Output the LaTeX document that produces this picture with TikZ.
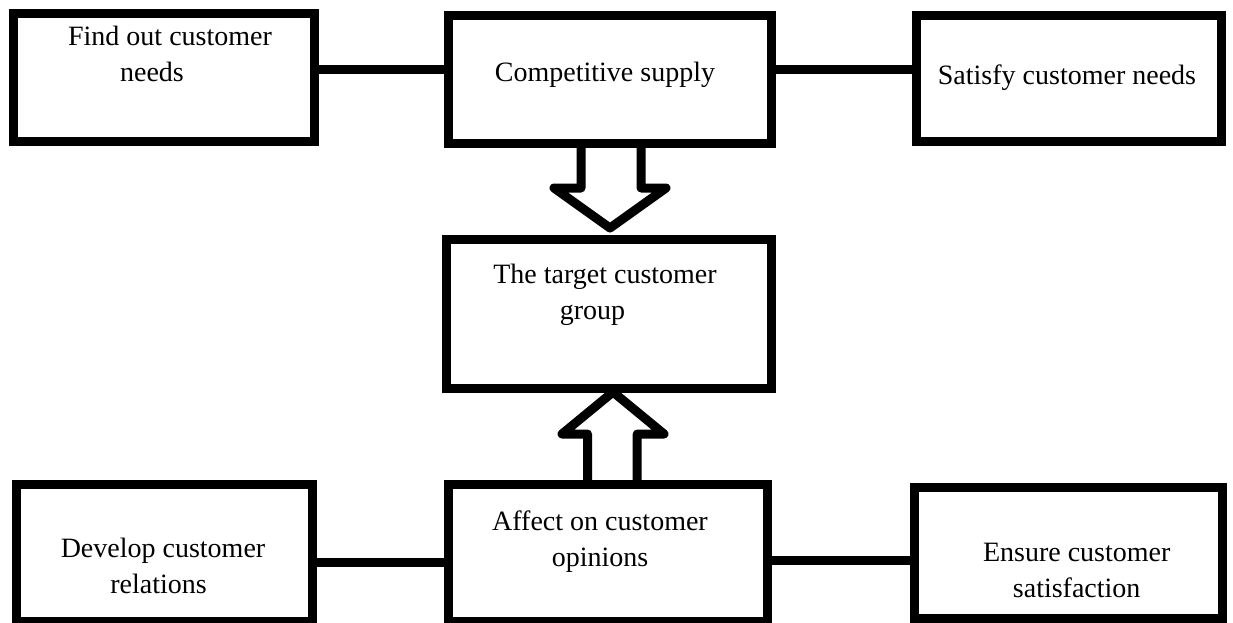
\documentclass[tikz,border=0pt]{standalone}
\usepackage{fontspec}
\setmainfont{Liberation Serif}
\usetikzlibrary{calc}
\begin{document}
\begin{tikzpicture}[x=1pt,y=-1pt,
  box/.style={draw=black, line width=9pt, rectangle, inner sep=0pt, outer sep=0pt},
  txt/.style={inner sep=0pt, anchor=base, font=\fontsize{28}{36}\selectfont},
  conn/.style={draw=black, line width=9pt},
  blockarrow/.style={draw=black, line width=9pt, line join=round}]
\fill[white] (0,0) rectangle (1233,623);
\useasboundingbox (0,0) rectangle (1233,623);

% boxes
\node[box, minimum width=300.3pt, minimum height=127.5pt] (find) at (163.85,77.55) {};
\node[box, minimum width=323pt, minimum height=127.2pt] (comp) at (609.5,79.4) {};
\node[box, minimum width=304.7pt, minimum height=125.9pt] (sat) at (1068.65,78.75) {};
\node[box, minimum width=325pt, minimum height=149.2pt] (target) at (608.5,314.1) {};
\node[box, minimum width=296pt, minimum height=136.8pt] (dev) at (164,553.1) {};
\node[box, minimum width=319.8pt, minimum height=136.5pt] (aff) at (607.9,552.95) {};
\node[box, minimum width=307.3pt, minimum height=130.7pt] (ens) at (1068.35,552.65) {};

% texts
\node[txt] (findt) at (170,46) {\begin{tabular}[t]{@{}c@{}}Find out customer\\needs\hspace*{36pt}\end{tabular}};
\node[txt] (compt) at (605,82) {Competitive supply};
\node[txt] (satt) at (1067,85) {Satisfy customer needs};
\node[txt] (targett) at (605,283.3) {\begin{tabular}[t]{@{}c@{}}The target customer\\group\hspace*{25pt}\end{tabular}};
\node[txt] (devt) at (163,557.3) {\begin{tabular}[t]{@{}c@{}}Develop customer\\relations\hspace*{9pt}\end{tabular}};
\node[txt] (afft) at (600,530.7) {\begin{tabular}[t]{@{}c@{}}Affect on customer\\opinions\end{tabular}};
\node[txt] (enst) at (1076.7,561.7) {\begin{tabular}[t]{@{}c@{}}Ensure customer\\satisfaction\end{tabular}};

% connectors
\coordinate (ytop) at (0,70);
\coordinate (ybotl) at (0,562);
\coordinate (ybotr) at (0,560);
\draw[conn] (find.east |- ytop) -- (comp.west |- ytop);
\draw[conn] (comp.east |- ytop) -- (sat.west |- ytop);
\draw[conn] (dev.east |- ybotl) -- (aff.west |- ybotl);
\draw[conn] (aff.east |- ybotr) -- (ens.west |- ybotr);

% block arrow down: comp -> target
\draw[blockarrow]
  ($(comp.south)+(-28.5,0)$) -- ($(comp.south)+(-28.5,45)$) -- ($(comp.south)+(-55.5,45)$)
  -- ($(target.north)+(1.5,-11.5)$)
  -- ($(comp.south)+(56.5,45)$) -- ($(comp.south)+(31.5,45)$) -- ($(comp.south)+(31.5,0)$);

% block arrow up: aff -> target
\draw[blockarrow]
  ($(aff.north)+(-20.4,0)$) -- ($(aff.north)+(-20.4,-50.7)$) -- ($(aff.north)+(-45.9,-50.7)$)
  -- ($(target.south)+(4.5,3.3)$)
  -- ($(aff.north)+(56.1,-50.7)$) -- ($(aff.north)+(29.3,-50.7)$) -- ($(aff.north)+(29.3,0)$);
\end{tikzpicture}
\end{document}
